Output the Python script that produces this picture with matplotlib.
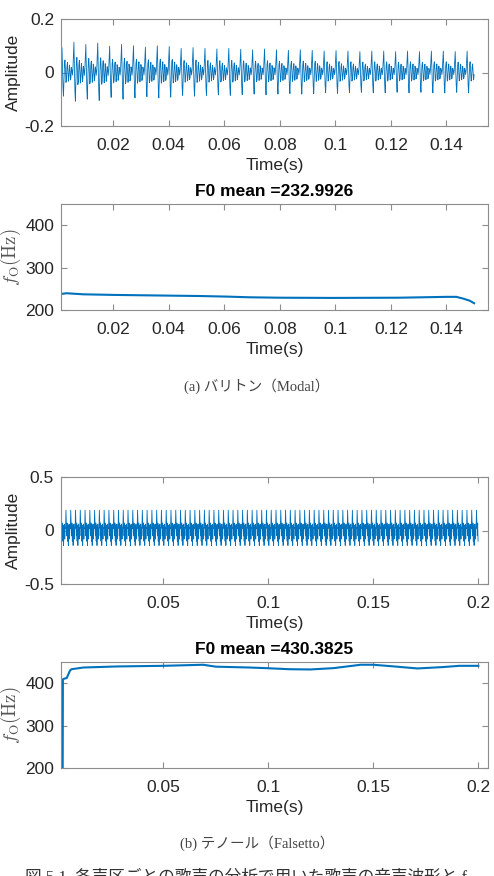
import numpy as np
import matplotlib
matplotlib.use("Agg")
import matplotlib.pyplot as plt

# ---------------- data ----------------
# (a) Modal: one glottal cycle shape (normalised to peak) and per-cycle peak amplitude
modal_cycle = [0.10, 0.55, 1.00, 0.20, -0.60, -0.95, -0.30, 0.35, 0.50, 0.10,
               -0.40, -0.30, 0.25, 0.40, 0.00, -0.35, -0.10, 0.30, 0.15, -0.30,
               -0.20, 0.20, 0.10, -0.10]
modal_peaks = [0.093, 0.113, 0.105, 0.110, 0.098, 0.105, 0.100, 0.095, 0.100, 0.097,
               0.090, 0.093, 0.090, 0.088, 0.090, 0.087, 0.085, 0.088, 0.085, 0.083,
               0.085, 0.083, 0.080, 0.082, 0.080, 0.078, 0.080, 0.080, 0.078, 0.080,
               0.078, 0.080, 0.080, 0.078, 0.080, 0.078]
modal_f0_mean = 232.9926
modal_t_range = (0.0012, 0.150)

modal_f0_t = [0.0014, 0.0032, 0.0092, 0.020, 0.039, 0.051, 0.061, 0.069, 0.080,
              0.099, 0.123, 0.140, 0.1436, 0.146, 0.1484, 0.150]
modal_f0_v = [238, 239.5, 237, 235.6, 234, 233, 231.6, 230, 229,
              228.5, 229, 231, 231, 227, 222, 216]

# (b) Falsetto: one cycle shape (absolute amplitude)
fals_cycle = [0.02, 0.19, 0.06, -0.05, 0.07, -0.10, 0.05, -0.14, 0.00, 0.06, -0.08, 0.03]
fals_n_cycles = 88
fals_f0_mean = 430.3825
fals_t_range = (0.0012, 0.200)

fals_f0_t = [0.0021, 0.0022, 0.0030, 0.0040, 0.0056, 0.0063, 0.012, 0.028, 0.050,
             0.069, 0.075, 0.091, 0.099, 0.110, 0.120, 0.131, 0.144, 0.150,
             0.160, 0.171, 0.183, 0.191, 0.200]
fals_f0_v = [190, 409, 411, 412, 430, 433, 437, 439.5, 441,
             443.5, 439, 437, 435.5, 433, 432.4, 435.5, 443.5, 443.5,
             439.5, 434.8, 438, 441, 441]

modal_xticks = [0.02, 0.04, 0.06, 0.08, 0.1, 0.12, 0.14]
modal_xticklabels = ["0.02", "0.04", "0.06", "0.08", "0.1", "0.12", "0.14"]
fals_xticks = [0.05, 0.1, 0.15, 0.2]
fals_xticklabels = ["0.05", "0.1", "0.15", "0.2"]
f0_yticks = [200, 300, 400]

caption_a = "(a) バリトン（Modal）"
caption_b = "(b) テノール（Falsetto）"
caption_fig = "図 5.1  各声区ごとの歌声の分析で用いた歌声の音声波形と f"

# ---------------- build waveforms from cycles ----------------
def build_wave(cycle, amps, f0, t0, t1):
    cycle = np.asarray(cycle, float)
    n = len(cycle)
    period = 1.0 / f0
    ts, ys = [], []
    for i, a in enumerate(amps):
        start = t0 + i * period
        ts.append(start + np.arange(n) * period / n)
        ys.append(cycle * a)
    t = np.concatenate(ts)
    y = np.concatenate(ys)
    m = t <= t1
    return t[m], y[m]

mt, my = build_wave(modal_cycle, modal_peaks, modal_f0_mean, *modal_t_range)
ft, fy = build_wave(fals_cycle, [1.0] * fals_n_cycles, 440.0, *fals_t_range)

# ---------------- styling ----------------
plt.rcParams['font.family'] = ['Liberation Sans', 'DejaVu Sans']
plt.rcParams['mathtext.fontset'] = 'cm'
BLUE = '#0072BD'
TXT = '#262626'
EDGE = '#8c8c8c'
FS = 12.5

W, H = 494, 876
AXW = 427
fig = plt.figure(figsize=(W / 100, H / 100), dpi=100)

def px_axes(top, bottom, left=61, right=488):
    return fig.add_axes([left / W, 1 - bottom / H, (right - left) / W, (bottom - top) / H])

def style(ax):
    for s in ax.spines.values():
        s.set_color(EDGE)
        s.set_linewidth(0.8)
    ax.tick_params(direction='in', top=True, right=True, colors=EDGE,
                   labelcolor=TXT, labelsize=FS, length=4, width=0.8)
    ax.tick_params(axis='x', pad=9)
    ax.tick_params(axis='y', pad=5)
    ax.set_xlabel("Time(s)", fontsize=FS, color=TXT, labelpad=3)

ylabel_f0 = r'$f_{\mathrm{O}}(\mathrm{Hz})$'

# (a) waveform
ax1 = px_axes(19, 126)
ax1.plot(mt, my, color=BLUE, lw=0.6)
ax1.set_xlim(0.0012, 0.155)
ax1.set_ylim(-0.2, 0.2)
ax1.set_yticks([-0.2, 0, 0.2])
ax1.set_yticklabels(["-0.2", "0", "0.2"])
ax1.set_xticks(modal_xticks)
ax1.set_xticklabels(modal_xticklabels)
ax1.set_ylabel("Amplitude", fontsize=FS, color=TXT)
style(ax1)
ax1.yaxis.set_label_coords(-40 / AXW, 0.5)

# (a) F0
ax2 = px_axes(204, 310)
ax2.plot(modal_f0_t, modal_f0_v, color=BLUE, lw=1.5)
ax2.set_xlim(0.0012, 0.155)
ax2.set_ylim(200, 450)
ax2.set_yticks(f0_yticks)
ax2.set_xticks(modal_xticks)
ax2.set_xticklabels(modal_xticklabels)
ax2.set_ylabel(ylabel_f0, fontsize=FS + 1, color='#555555')
ax2.set_title("F0 mean =%.4f" % modal_f0_mean, fontsize=FS, fontweight='bold',
              color='black', pad=6)
style(ax2)
ax2.yaxis.set_label_coords(-38 / AXW, 0.5)

# (b) waveform
ax3 = px_axes(477, 584)
ax3.plot(ft, fy, color=BLUE, lw=0.6)
ax3.set_xlim(0.0013, 0.2046)
ax3.set_ylim(-0.5, 0.5)
ax3.set_yticks([-0.5, 0, 0.5])
ax3.set_yticklabels(["-0.5", "0", "0.5"])
ax3.set_xticks(fals_xticks)
ax3.set_xticklabels(fals_xticklabels)
ax3.set_ylabel("Amplitude", fontsize=FS, color=TXT)
style(ax3)
ax3.yaxis.set_label_coords(-40 / AXW, 0.5)

# (b) F0
ax4 = px_axes(662, 768)
ax4.plot(fals_f0_t, fals_f0_v, color=BLUE, lw=1.5, clip_on=True)
ax4.set_xlim(0.0013, 0.2046)
ax4.set_ylim(200, 450)
ax4.set_yticks(f0_yticks)
ax4.set_xticks(fals_xticks)
ax4.set_xticklabels(fals_xticklabels)
ax4.set_ylabel(ylabel_f0, fontsize=FS + 1, color='#555555')
ax4.set_title("F0 mean =%.4f" % fals_f0_mean, fontsize=FS, fontweight='bold',
              color='black', pad=6)
style(ax4)
ax4.yaxis.set_label_coords(-38 / AXW, 0.5)

# captions
cap_font = ['Liberation Serif', 'Noto Sans CJK JP']
fig.text(257 / W, 1 - 386 / H, caption_a, ha='center', va='center',
         fontsize=10.5, family=cap_font, color='#444444')
fig.text(257 / W, 1 - 843 / H, caption_b, ha='center', va='center',
         fontsize=10.5, family=cap_font, color='#444444')
fig.text(25 / W, 1 - 869 / H, caption_fig, ha='left', va='top',
         fontsize=12, family=cap_font, color='#333333')

fig.savefig("out.png", dpi=100)
